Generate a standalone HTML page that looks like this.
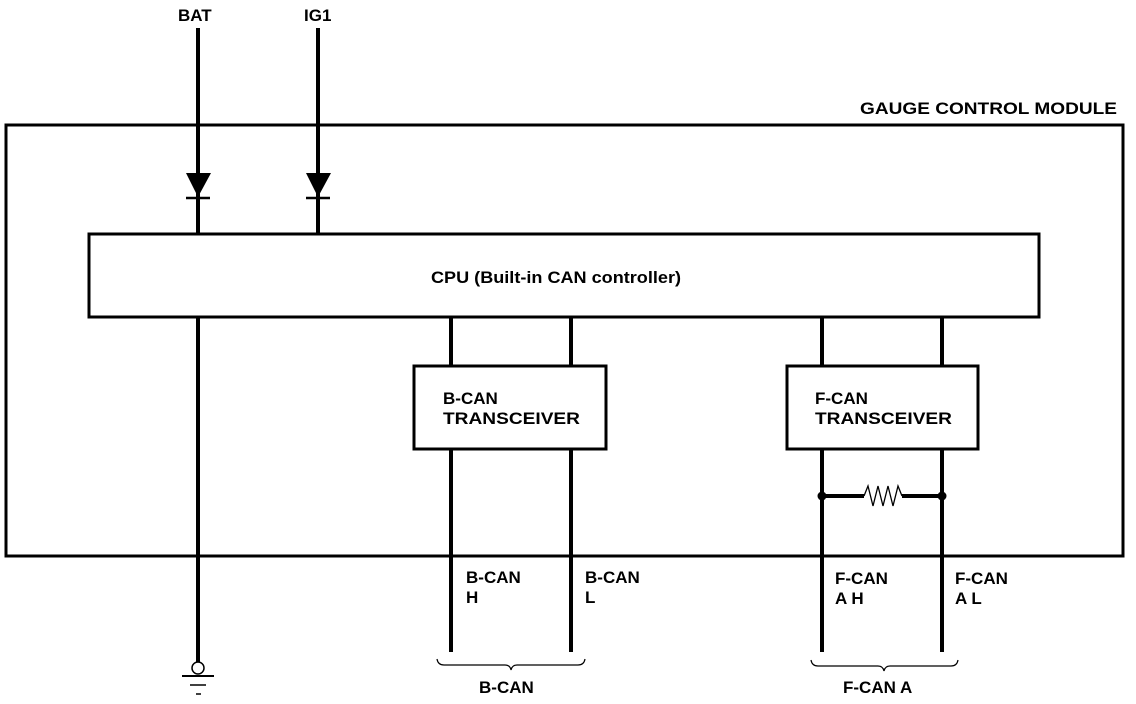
<!DOCTYPE html>
<html><head><style>
html,body{margin:0;padding:0;background:#fff;}
svg{display:block;}
text{font-family:"Liberation Sans",Arial,sans-serif;font-size:17px;font-weight:bold;fill:#000;}
</style></head><body>
<svg width="1136" height="704" viewBox="0 0 1136 704" xmlns="http://www.w3.org/2000/svg">
<g fill="none" stroke="#000">
<rect x="6" y="125" width="1117" height="431" stroke-width="3"/>
<rect x="89" y="234" width="950" height="83" stroke-width="3"/>
<rect x="414" y="366" width="192" height="83" stroke-width="3"/>
<rect x="787" y="366" width="191" height="83" stroke-width="3"/>
<g stroke-width="4">
<line x1="198" y1="28" x2="198" y2="234"/>
<line x1="198" y1="317" x2="198" y2="662"/>
<line x1="318" y1="28" x2="318" y2="234"/>
<line x1="451" y1="317" x2="451" y2="366"/>
<line x1="571" y1="317" x2="571" y2="366"/>
<line x1="822" y1="317" x2="822" y2="366"/>
<line x1="942" y1="317" x2="942" y2="366"/>
<line x1="451" y1="449" x2="451" y2="652"/>
<line x1="571" y1="449" x2="571" y2="652"/>
<line x1="822" y1="449" x2="822" y2="652"/>
<line x1="942" y1="449" x2="942" y2="652"/>
<line x1="822" y1="496" x2="864" y2="496"/>
<line x1="902" y1="496" x2="942" y2="496"/>
</g>
<g stroke-width="2.5">
<line x1="186" y1="198" x2="210" y2="198"/>
<line x1="306" y1="198" x2="330" y2="198"/>
</g>
<polyline points="864,496 868,486 873,506 878,486 883,506 888,486 893,506 898,486 902,496" stroke-width="1.3"/>
<circle cx="198" cy="668" r="6" stroke-width="1.5"/>
<line x1="182" y1="676" x2="214" y2="676" stroke-width="2"/>
<line x1="190" y1="685" x2="206" y2="685" stroke-width="1.5"/>
<line x1="196" y1="694" x2="201" y2="694" stroke-width="1.5"/>
<path d="M437,659 Q438,665 444,665 L505,665 Q510,665 511,670 Q512,665 517,665 L578,665 Q584,665 585,659" stroke-width="1.2"/>
<path d="M811,660 Q812,666 818,666 L878,666 Q883,666 884,671 Q885,666 890,666 L951,666 Q957,666 958,660" stroke-width="1.2"/>
</g>
<polygon points="186,173 211,173 198,197" fill="#000"/>
<polygon points="306,173 331,173 318,197" fill="#000"/>
<circle cx="822" cy="496" r="4.5" fill="#000"/>
<circle cx="942" cy="496" r="4.5" fill="#000"/>
<text x="178" y="21">BAT</text>
<text x="304" y="21">IG1</text>
<text x="860" y="114" textLength="257" lengthAdjust="spacingAndGlyphs">GAUGE CONTROL MODULE</text>
<text x="431" y="283" textLength="250" lengthAdjust="spacingAndGlyphs">CPU (Built-in CAN controller)</text>
<text x="443" y="404">B-CAN</text>
<text x="443" y="424" textLength="137" lengthAdjust="spacingAndGlyphs">TRANSCEIVER</text>
<text x="815" y="404">F-CAN</text>
<text x="815" y="424" textLength="137" lengthAdjust="spacingAndGlyphs">TRANSCEIVER</text>
<text x="466" y="583">B-CAN</text>
<text x="466" y="603">H</text>
<text x="585" y="583">B-CAN</text>
<text x="585" y="603">L</text>
<text x="835" y="584">F-CAN</text>
<text x="835" y="604">A H</text>
<text x="955" y="584">F-CAN</text>
<text x="955" y="604">A L</text>
<text x="479" y="693">B-CAN</text>
<text x="843" y="693">F-CAN A</text>
</svg>
</body></html>
